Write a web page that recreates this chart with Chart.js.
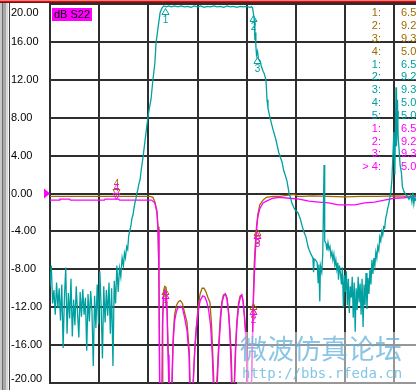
<!DOCTYPE html>
<html><head><meta charset="utf-8">
<script src="https://cdn.jsdelivr.net/npm/chart.js@4.4.1/dist/chart.umd.min.js"></script>
<style>
html,body{margin:0;padding:0;overflow:hidden;background:#fff;}
#wrap{position:relative;width:416px;height:390px;overflow:hidden;background:#fff;}
canvas{position:absolute;left:0;top:0;}
.ov{position:absolute;white-space:nowrap;font-family:"Liberation Sans",Arial,sans-serif;font-size:11px;line-height:12px;}
</style></head><body>
<div id="wrap">
<canvas id="c" width="416" height="390"></canvas>
<div style="position:absolute;left:0;top:0;width:10px;height:390px;background:linear-gradient(to right,#c8c8c8 0px,#c8c8c8 2px,#6a6a6a 2px,#6a6a6a 3px,#a8a8a8 3px,#a8a8a8 6px,#d8d8d8 6px,#d8d8d8 8px,#f4f4f4 8px,#f4f4f4 9px,#404040 9px,#404040 10px);"></div>
<div style="position:absolute;left:0;top:0;width:416px;height:3px;background:linear-gradient(to bottom,#e09090 0px,#e09090 1px,#ff0000 1px,#ff0000 2px,#7a1010 2px,#7a1010 3px);"></div>
<div class="ov" id="trlabel" style="left:52px;top:8px;height:13px;line-height:13px;padding:0 2px;background:#ff00ff;color:#000;">dB S22</div>
<div id="mlist"></div>
<div style="position:absolute;left:237px;top:332px;width:179px;height:52px;background:rgba(255,255,255,0.5);"></div>
<div class="ov" style="left:240px;top:330px;font-family:'Noto Sans CJK SC';font-size:27px;line-height:36px;color:rgba(100,178,222,0.75);">微波仿真论坛</div>
<div class="ov" style="left:242px;top:365px;font-family:'DejaVu Sans Mono';font-size:14px;line-height:16px;color:rgba(100,182,222,0.8);">http://bbs.rfeda.cn</div>
</div>
<script>
// ---- axis definitions (GHz, dB) ----
const xGrid = [3, 4.5, 6, 7.5, 9, 10.5, 12, 13.5];
const yTicks = [-20, -16, -12, -8, -4, 0, 4, 8, 12, 16, 20];
const refLevel = 0;

// ---- teal trace (passband) ----
const tealFreq = [3.00,3.04,3.08,3.12,3.16,3.20,3.24,3.28,3.32,3.36,3.40,3.44,3.48,3.52,3.56,3.60,3.64,3.68,3.72,3.76,3.80,3.84,3.88,3.92,3.96,4.00,4.04,4.08,4.12,4.16,4.20,4.24,4.28,4.32,4.36,4.40,4.44,4.48,4.52,4.56,4.60,4.64,4.68,4.72,4.76,4.80,4.84,4.88,4.92,4.96,5.00,5.04,5.08,5.12,5.16,5.20,
5.24,5.27,5.30,5.34,5.37,5.40,5.44,5.47,5.50,5.53,5.56,5.59,5.62,5.65,5.68,5.71,5.75,5.78,5.84,5.90,5.96,6.02,6.08,6.14,6.20,6.235,6.30,6.36,6.42,
6.47,6.55,6.62,6.70,6.80,6.90,7.00,7.10,7.20,7.30,7.40,7.50,7.60,7.70,7.80,7.90,8.00,8.10,8.20,8.30,8.40,8.50,8.60,8.70,8.80,8.90,9.00,9.10,9.15,9.18,
9.20,9.23,9.25,9.265,9.28,9.30,9.33,9.36,9.41,9.45,9.50,9.53,9.57,9.59,9.62,9.65,9.71,9.80,9.89,9.98,10.08,10.13,10.17,10.23,10.29,10.38,10.44,10.47,10.56,10.63,10.69,10.75,10.81,10.87,10.90,10.96,11.02,11.04,11.06,11.10,11.15,11.18,11.20,11.23,11.25,11.29,11.32,11.36,11.38,11.42,11.45,11.48,11.51,11.54,11.57,11.60,11.63,11.66,11.69,11.72,11.75,11.78,11.80,11.83,11.86,11.89,11.92,11.95,11.98,12.01,12.04,12.07,12.10,12.13,12.16,12.19,12.22,12.25,12.28,12.31,12.34,12.37,12.40,12.43,12.46,12.49,12.52,12.55,12.58,12.61,12.64,12.67,12.70,12.73,12.76,12.79,12.82,12.85,12.88,12.91,12.94,12.97,13.00,13.03,13.06,13.09,13.12,13.15,13.18,13.21,13.24,13.27,13.30,13.33,13.36,13.40,13.43,13.46,13.49,13.52,13.555,13.57,13.60,13.62,13.65,13.68,13.72,13.75,13.80,13.85,13.90,13.95,14.00,14.04,14.07,14.10,14.13,14.165];
const tealDb = [-9.8,-7.6,-11.6,-10.2,-12.8,-9.4,-12.1,-10.0,-13.4,-9.6,-16.3,-11.0,-7.8,-14.8,-10.5,-13.2,-9.0,-15.1,-11.2,-13.9,-9.8,-12.6,-15.2,-10.4,-13.0,-10.1,-12.8,-11.0,-16.6,-10.6,-13.5,-10.3,-12.4,-18.2,-10.8,-14.2,-9.6,-13.8,-8.2,-12.0,-17.4,-9.8,-13.6,-10.2,-12.9,-9.4,-14.8,-10.0,-18.2,-9.2,-11.6,-7.6,-10.4,-7.9,-8.8,-6.8,
-7.6,-6.3,-6.8,-5.6,-5.9,-4.5,-3.8,-3.4,-2.6,-2.3,-1.6,-1.0,-0.6,0.0,0.4,1.0,1.5,2.4,3.9,5.6,7.3,8.8,9.9,12.0,13.8,15.9,17.6,19.1,19.6,
19.8,19.7,19.8,19.7,19.8,19.7,19.8,19.7,19.75,19.65,19.8,19.7,19.8,19.65,19.75,19.7,19.8,19.7,19.75,19.65,19.8,19.7,19.75,19.65,19.75,19.7,19.75,19.65,19.7,19.6,
19.1,18.4,16.2,17.0,15.6,14.6,15.0,14.2,14.0,13.4,12.9,12.7,12.2,11.9,9.9,9.0,8.0,6.8,5.7,4.3,3.3,2.4,2.0,1.3,0.1,-1.0,-1.5,-1.7,-2.0,-2.6,-3.4,-4.1,-4.6,-5.6,-5.9,-6.4,-6.8,-8.3,-6.9,-7.0,-7.3,-9.4,-7.5,-11.4,-7.6,-8.3,-6.5,3.0,-5.0,-5.3,-6.0,-5.2,-5.9,-5.6,-6.6,-6.2,-7.0,-6.4,-7.6,-7.0,-8.0,-7.3,-9.1,-7.6,-8.4,-9.6,-7.8,-12.0,-8.6,-10.4,-8.2,-11.8,-9.0,-12.6,-9.8,-11.0,-8.8,-13.1,-9.4,-14.6,-10.0,-12.3,-8.8,-11.5,-9.5,-12.8,-9.0,-14.1,-9.6,-11.8,-8.4,-12.2,-8.9,-10.6,-8.0,-9.6,-7.0,-8.5,-6.8,-7.6,-6.2,-6.8,-5.6,-6.0,-4.6,-5.0,-4.0,-4.4,-3.5,-3.6,-2.6,-2.2,-1.6,-1.2,-0.6,0.2,1.5,4.0,6.5,2.0,11.2,5.0,9.9,6.0,4.6,3.0,2.2,0.7,0.2,-0.1,-0.3,-0.6,-0.2,-0.9,0.1,-1.1,-0.4,-0.8];

// ---- brown trace ----
const brownFreq = [3.00,4.00,5.00,6.05,6.14,6.20,6.24,6.265,6.295,6.325,6.35,6.42,6.44,6.47,6.50,6.54,6.57,6.61,6.65,6.72,6.76,6.80,6.86,6.92,6.98,7.04,7.10,7.18,7.25,7.28,7.36,7.42,7.48,7.52,7.58,7.64,7.70,7.76,7.82,7.88,7.93,7.98,8.01,8.07,8.13,8.19,8.24,8.29,8.35,8.40,8.45,8.49,8.53,8.56,8.61,8.66,8.70,8.75,8.80,8.85,8.89,8.93,8.97,9.01,9.03,9.14,9.17,9.20,9.23,9.26,9.30,9.34,9.40,9.50,9.60,9.80,10.0,10.45,10.55,10.7,11.0,11.5,12.0,12.5,13.0,13.5,14.0,14.165];
const brownDb = [-0.3,-0.3,-0.3,-0.3,-0.4,-0.9,-1.5,-1.9,-3.5,-9.0,-21,-21,-13,-10.2,-9.8,-9.9,-12,-17,-21,-21,-15,-12.8,-11.8,-11.4,-11.3,-11.6,-12.5,-13.6,-16.7,-21,-21,-16,-13.5,-11.9,-10.6,-10.0,-10.0,-10.4,-11.0,-11.5,-14,-18.2,-21,-21,-17,-13.3,-11.5,-10.7,-10.6,-11.0,-12.5,-14.5,-17,-21,-21,-16,-13.5,-11.6,-10.8,-10.7,-11.3,-12.8,-14.5,-17.5,-21,-21,-16,-11.3,-7.5,-5.5,-3.5,-2.2,-1.2,-0.7,-0.4,-0.3,-0.3,-0.1,-0.3,-0.3,-0.25,-0.3,-0.35,-0.3,-0.3,-0.25,-0.3,-0.2];

// ---- magenta trace (S22) ----
const magFreq = [3.00,3.28,3.30,3.60,3.62,4.66,4.68,5.10,5.12,6.00,6.10,6.20,6.26,6.295,6.32,6.345,6.41,6.43,6.46,6.50,6.54,6.57,6.60,6.63,6.71,6.75,6.80,6.86,6.92,6.98,7.04,7.10,7.18,7.24,7.27,7.35,7.41,7.47,7.52,7.58,7.66,7.72,7.78,7.84,7.90,7.95,7.99,8.09,8.14,8.20,8.25,8.30,8.35,8.40,8.45,8.49,8.52,8.55,8.62,8.67,8.71,8.76,8.81,8.85,8.89,8.93,8.97,9.00,9.03,9.14,9.17,9.20,9.23,9.26,9.30,9.34,9.40,9.50,9.60,9.80,10.0,10.3,10.6,10.9,11.2,11.5,11.8,12.0,12.3,12.6,12.9,13.2,13.5,13.8,14.165];
const magDb = [-0.7,-0.7,-0.6,-0.6,-0.7,-0.7,-0.6,-0.6,-0.7,-0.7,-0.7,-1.0,-2.0,-3.8,-8,-21,-21,-14,-11,-10.2,-10.4,-12.5,-17,-21,-21,-16,-13.5,-12.4,-12.0,-11.9,-12.1,-13,-14.5,-17,-21,-21,-17,-14,-12.5,-11.3,-10.8,-10.9,-11.4,-12.3,-14,-17,-21,-21,-17,-13.5,-11.5,-10.8,-10.6,-11.2,-12.8,-15,-18,-21,-21,-16,-13.5,-11.7,-10.9,-10.7,-11.4,-13,-15,-18,-21,-21,-17,-11.9,-9,-6.5,-3.8,-2.5,-1.6,-1.0,-0.8,-0.5,-0.4,-0.5,-0.6,-0.8,-0.9,-1.0,-1.2,-1.2,-1.2,-1.0,-0.9,-0.7,-0.5,-0.45,-0.3];

// ---- markers ----
const markerNames = ['1', '2', '3', '4', '5'];
const brownMarkerFreq = [6.5, 9.2, 9.3, 5.0];
const brownMarkerDb = [-9.8, -11.3, -3.5, -0.3];
const tealMarkerFreq = [6.5, 9.2, 9.3, 5.0, 15.0];
const tealMarkerDb = [19.8, 19.1, 14.6, null, null];
const magMarkerFreq = [6.5, 9.2, 9.3, 5.0];
const magMarkerDb = [-10.2, -11.9, -3.8, -0.7];

const TEAL = '#00a0a0', BROWN = '#a06a00', MAG = '#ff00ff', GRID = '#2e2e2e';

// marker readout list
(function(){
  const groups = [[brownMarkerFreq, BROWN, -1], [tealMarkerFreq, TEAL, -1], [magMarkerFreq, MAG, 3]];
  const box = document.getElementById('mlist');
  let row = 0;
  groups.forEach(([freqs, col, active]) => {
    freqs.forEach((f, i) => {
      const base = 16 + row * 12.83;
      const lab = document.createElement('div');
      lab.className = 'ov';
      lab.style.cssText = `right:${416-381}px;top:${(base-9.8).toFixed(1)}px;color:${col};text-align:right;`;
      lab.textContent = (i === active ? '> ' : '') + markerNames[i] + ':';
      box.appendChild(lab);
      const val = document.createElement('div');
      val.className = 'ov';
      const digits = Math.floor(f).toString().length;
      val.style.cssText = `left:${401-(digits-1)*6}px;top:${(base-9.8).toFixed(1)}px;color:${col};`;
      val.textContent = f.toFixed(9) + ' GHz';
      box.appendChild(val);
      row++;
    });
  });
})();

const pts = (fs, ds) => fs.map((f, i) => ({x: f, y: ds[i]}));

const markerPlugin = {
  id: 'markers',
  beforeDraw(chart) {
    const items = chart.scales.y.getLabelItems();
    items.forEach(it => {
      if (it._shifted) return;
      if (it.label === '20.00') it.options.translation[1] += 9;
      if (it.label === '-20.00') it.options.translation[1] -= 4.5;
      it._shifted = true;
    });
  },
  afterDatasetsDraw(chart) {
    const ctx = chart.ctx, xs = chart.scales.x, ys = chart.scales.y, a = chart.chartArea;
    ctx.save();
    ctx.beginPath(); ctx.rect(a.left, a.top, a.right - a.left, a.bottom - a.top); ctx.clip();
    ctx.lineWidth = 1;
    ctx.font = '10px "Liberation Sans"';
    ctx.textAlign = 'center';
    const sets = [[brownMarkerFreq, brownMarkerDb, BROWN], [magMarkerFreq, magMarkerDb, MAG], [tealMarkerFreq, tealMarkerDb, TEAL]];
    sets.forEach(([fs, ds, col]) => {
      fs.forEach((f, i) => {
        const v = ds[i];
        if (v === null) return;
        const px = Math.round(xs.getPixelForValue(f)) + 0.5, py = Math.round(ys.getPixelForValue(v)) + 0.5;
        ctx.strokeStyle = col; ctx.fillStyle = col;
        ctx.beginPath();
        if (markerNames[i] === '4') {
          ctx.moveTo(px, py - 1); ctx.lineTo(px - 3.5, py - 7); ctx.lineTo(px + 3.5, py - 7); ctx.closePath(); ctx.stroke();
          ctx.textBaseline = 'bottom'; ctx.fillText(markerNames[i], px, py - 7);
        } else {
          ctx.moveTo(px, py + 2); ctx.lineTo(px - 3.5, py + 8); ctx.lineTo(px + 3.5, py + 8); ctx.closePath(); ctx.stroke();
          ctx.textBaseline = 'top'; ctx.fillText(markerNames[i], px, py + 9);
        }
      });
    });
    ctx.restore();
    // reference level arrow
    const ry = ys.getPixelForValue(refLevel);
    ctx.save();
    ctx.fillStyle = MAG;
    ctx.beginPath(); ctx.moveTo(a.left - 6, ry - 5); ctx.lineTo(a.left - 6, ry + 5); ctx.lineTo(a.left, ry); ctx.closePath(); ctx.fill();
    ctx.restore();
  }
};

new Chart(document.getElementById('c'), {
  type: 'line',
  data: {
    datasets: [
      {label: 'S21', data: pts(tealFreq, tealDb), borderColor: TEAL, borderWidth: 1.3, pointRadius: 0},
      {label: 'S22', data: pts(magFreq, magDb), borderColor: MAG, borderWidth: 1.3, pointRadius: 0},
      {label: 'S11', data: pts(brownFreq, brownDb), borderColor: BROWN, borderWidth: 1.3, pointRadius: 0}
    ]
  },
  options: {
    responsive: false, animation: false, devicePixelRatio: 1,
    layout: {padding: {left: 11, top: 4, right: 0, bottom: 0}},
    elements: {line: {tension: 0}},
    plugins: {legend: {display: false}, tooltip: {enabled: false}},
    scales: {
      x: {
        type: 'linear', min: 3, max: 14.165,
        afterBuildTicks: s => { s.ticks = xGrid.map(v => ({value: v})); },
        afterFit: s => { s.height = 7; },
        ticks: {display: false},
        grid: {color: GRID, lineWidth: 2, drawTicks: false},
        border: {color: GRID, width: 2}
      },
      y: {
        type: 'linear', min: -20, max: 20,
        afterBuildTicks: s => { s.ticks = yTicks.map(v => ({value: v})); },
        afterFit: s => { s.width = 39; s.paddingTop = 0; s.paddingBottom = 0; },
        ticks: {callback: v => v.toFixed(2), color: '#000', crossAlign: 'far', padding: 0,
                font: {family: 'Liberation Sans', size: 11}},
        grid: {color: GRID, lineWidth: 2, drawTicks: false},
        border: {color: GRID, width: 2}
      }
    }
  },
  plugins: [markerPlugin]
});
</script>
</body></html>
